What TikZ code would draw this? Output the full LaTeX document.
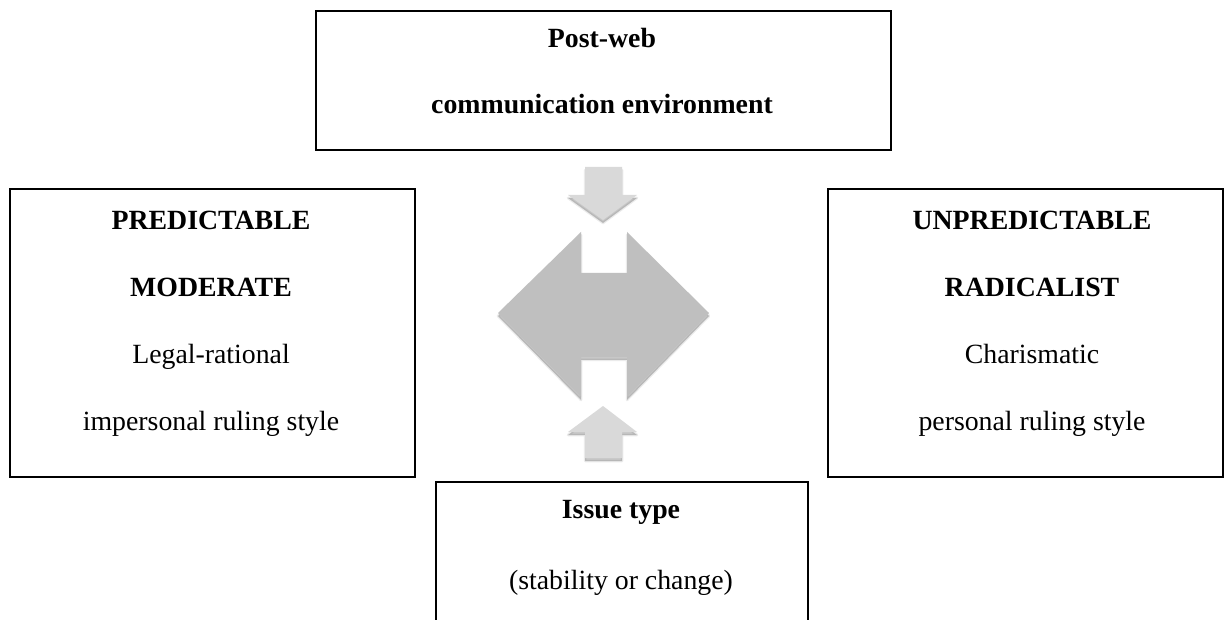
\documentclass[tikz,border=0pt]{standalone}
\usepackage{fontspec}
\setmainfont{Liberation Serif}
\definecolor{bigarrowfill}{HTML}{BFBFBF}
\definecolor{smallarrowfill}{HTML}{D9D9D9}
\newcommand\mydiampath{(581,232) -- (581,273) -- (627,273) -- (627,232) -- (709,313) -- (627,397) -- (627,357) -- (581,357) -- (581,397) -- (498,313) -- cycle}
\newcommand\mydownpath{(585,167) -- (622,167) -- (622,195) -- (637,195) -- (603,220) -- (568,195) -- (585,195) -- cycle}
\newcommand\myuppath{(603,406) -- (637,432) -- (622,432) -- (622,458) -- (585,458) -- (585,432) -- (568,432) -- cycle}
\begin{document}
\begin{tikzpicture}[x=1pt,y=-1pt,
  box/.style={draw=black, line width=1.8pt, fill=white, inner sep=0pt, anchor=north west},
  txt/.style={anchor=base, inner sep=0pt, font=\fontsize{27.8}{33}\selectfont},
  btxt/.style={anchor=base, inner sep=0pt, font=\fontsize{27.8}{33}\selectfont\bfseries},
  shadowfill/.style={fill=black, opacity=0.22},
  shadowblur/.style={draw=black, opacity=0.08, line width=2.5pt, line join=round}]
\useasboundingbox (0,0) rectangle (1232,620);
\fill[white] (0,0) rectangle (1232,620);

% boxes
\node[box, minimum width=575pt, minimum height=139pt] (top) at (315,10) {};
\node[box, minimum width=405pt, minimum height=288pt] (left) at (9,188) {};
\node[box, minimum width=395pt, minimum height=288pt] (right) at (827,188) {};
\node[box, minimum width=372pt, minimum height=170pt] (issue) at (435,481) {};

% texts
\node[btxt] (t1) at (602,48) {Post-web};
\node[btxt] (t2) at (602,114) {communication environment};

\node[btxt] (l1) at (211,230) {PREDICTABLE};
\node[btxt] (l2) at (211,297) {MODERATE};
\node[txt]  (l3) at (211,363) {Legal-rational};
\node[txt]  (l4) at (211,430) {impersonal ruling style};

\node[btxt] (r1) at (1032,230) {UNPREDICTABLE};
\node[btxt] (r2) at (1032,297) {RADICALIST};
\node[txt]  (r3) at (1032,363) {Charismatic};
\node[txt]  (r4) at (1032,430) {personal ruling style};

\node[btxt] (i1) at (621,518) {Issue type};
\node[txt]  (i2) at (621,589) {(stability or change)};

% shadows
\begin{scope}[shift={(0,3)}]
  \fill[shadowfill] \mydiampath;
  \draw[shadowblur] \mydiampath;
  \fill[shadowfill] \mydownpath;
  \draw[shadowblur] \mydownpath;
  \fill[shadowfill] \myuppath;
  \draw[shadowblur] \myuppath;
\end{scope}

% arrows
\fill[bigarrowfill] \mydiampath;
\fill[smallarrowfill] \mydownpath;
\fill[smallarrowfill] \myuppath;
\end{tikzpicture}
\end{document}
